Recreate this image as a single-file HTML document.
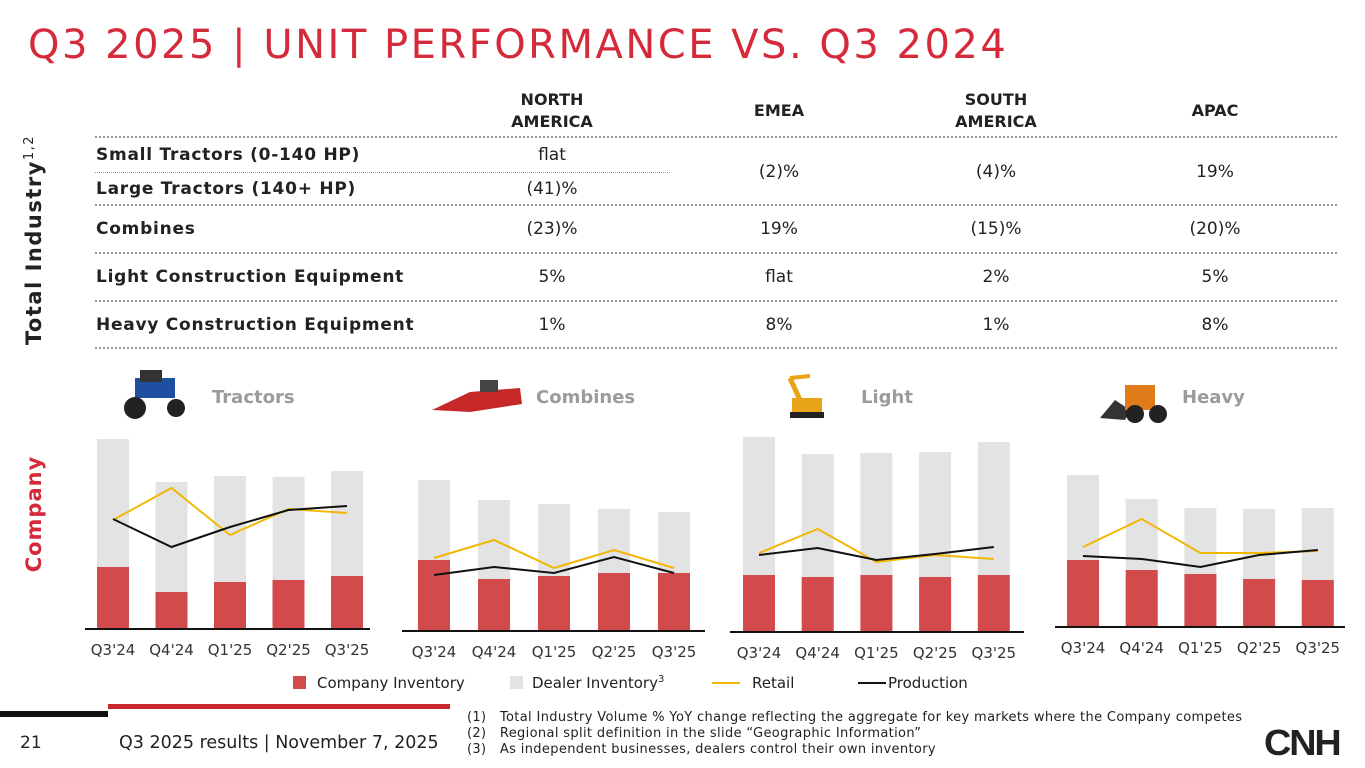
<!DOCTYPE html>
<html><head><meta charset="utf-8">
<style>
body{margin:0;width:1365px;height:768px;background:#fff;overflow:hidden;position:relative;font-family:"DejaVu Sans","Liberation Sans",sans-serif;color:#222}
.abs{position:absolute;white-space:nowrap}
.title{left:28px;top:22px;font-family:"DejaVu Sans",sans-serif;font-size:40px;color:#d42a3a;letter-spacing:2.5px}
.hd{font-weight:bold;font-size:16px;text-align:center;width:200px;line-height:22px}
.rl{font-weight:bold;font-size:17px;left:96px;letter-spacing:0.75px}
.v{font-size:17px;text-align:center;width:160px}
.dot{position:absolute;border-top:2px dotted #999;height:0}
.cat{font-weight:bold;font-size:18px;color:#9b9b9b}
.fn{font-size:13px;left:467px;color:#222;font-family:"DejaVu Sans",sans-serif;letter-spacing:0.35px}
</style></head><body>
<div class="abs title">Q3 2025 | UNIT PERFORMANCE VS. Q3 2024</div>

<div class="abs" style="left:-76px;top:228px;width:220px;text-align:center;transform:rotate(-90deg);font-weight:bold;font-size:21px;letter-spacing:1.5px">Total Industry<sup style="font-weight:normal;font-size:13px">1,2</sup></div>
<div class="abs" style="left:-26px;top:502px;width:120px;text-align:center;transform:rotate(-90deg);font-weight:bold;font-size:21px;color:#d42a3a;letter-spacing:1px">Company</div>

<div class="abs hd" style="left:452px;top:89px">NORTH<br>AMERICA</div>
<div class="abs hd" style="left:679px;top:100px">EMEA</div>
<div class="abs hd" style="left:896px;top:89px">SOUTH<br>AMERICA</div>
<div class="abs hd" style="left:1115px;top:100px">APAC</div>

<div class="dot" style="left:95px;width:1242px;top:136px"></div>
<div class="dot" style="left:95px;width:575px;top:172px;border-top-width:1px"></div>
<div class="dot" style="left:95px;width:1242px;top:204px"></div>
<div class="dot" style="left:95px;width:1242px;top:252px"></div>
<div class="dot" style="left:95px;width:1242px;top:300px"></div>
<div class="dot" style="left:95px;width:1242px;top:347px"></div>

<div class="abs rl" style="top:145px">Small Tractors (0-140 HP)</div>
<div class="abs rl" style="top:179px">Large Tractors (140+ HP)</div>
<div class="abs rl" style="top:219px">Combines</div>
<div class="abs rl" style="top:267px">Light Construction Equipment</div>
<div class="abs rl" style="top:315px">Heavy Construction Equipment</div>

<div class="abs v" style="left:472px;top:145px">flat</div>
<div class="abs v" style="left:472px;top:179px">(41)%</div>
<div class="abs v" style="left:699px;top:162px">(2)%</div>
<div class="abs v" style="left:916px;top:162px">(4)%</div>
<div class="abs v" style="left:1135px;top:162px">19%</div>

<div class="abs v" style="left:472px;top:219px">(23)%</div>
<div class="abs v" style="left:699px;top:219px">19%</div>
<div class="abs v" style="left:916px;top:219px">(15)%</div>
<div class="abs v" style="left:1135px;top:219px">(20)%</div>
<div class="abs v" style="left:472px;top:267px">5%</div>
<div class="abs v" style="left:699px;top:267px">flat</div>
<div class="abs v" style="left:916px;top:267px">2%</div>
<div class="abs v" style="left:1135px;top:267px">5%</div>
<div class="abs v" style="left:472px;top:315px">1%</div>
<div class="abs v" style="left:699px;top:315px">8%</div>
<div class="abs v" style="left:916px;top:315px">1%</div>
<div class="abs v" style="left:1135px;top:315px">8%</div>

<div class="abs cat" style="left:212px;top:387px">Tractors</div>
<div class="abs cat" style="left:536px;top:387px">Combines</div>
<div class="abs cat" style="left:861px;top:387px">Light</div>
<div class="abs cat" style="left:1182px;top:387px">Heavy</div>

<svg class="abs" style="left:0;top:0" width="1365" height="768" id="chart">
 <g>
  <rect x="135" y="378" width="40" height="20" fill="#1f4fa0"/><rect x="140" y="370" width="22" height="12" fill="#333"/>
  <circle cx="135" cy="408" r="11" fill="#222"/><circle cx="176" cy="408" r="9" fill="#222"/></g>
 <g>
  <polygon points="432,410 470,392 520,388 522,404 470,412" fill="#c62828"/><rect x="480" y="380" width="18" height="12" fill="#444"/></g>
 <g>
  <rect x="792" y="398" width="30" height="16" fill="#e8a317"/><line x1="800" y1="400" x2="790" y2="378" stroke="#e8a317" stroke-width="5"/><line x1="790" y1="378" x2="810" y2="376" stroke="#e8a317" stroke-width="4"/><rect x="790" y="412" width="34" height="6" fill="#222"/></g>
 <g>
  <polygon points="1100,418 1115,400 1130,410 1125,420" fill="#333"/><rect x="1125" y="385" width="30" height="25" fill="#e07b1a"/><circle cx="1135" cy="414" r="9" fill="#222"/><circle cx="1158" cy="414" r="9" fill="#222"/></g>
</svg>

<div class="abs" style="left:293px;top:676px;width:13px;height:13px;background:#d24a4c"></div>
<div class="abs" style="left:317px;top:674px;font-size:15px">Company Inventory</div>
<div class="abs" style="left:510px;top:676px;width:13px;height:13px;background:#e3e3e3"></div>
<div class="abs" style="left:532px;top:674px;font-size:15px">Dealer Inventory<sup style="font-size:10px">3</sup></div>
<div class="abs" style="left:712px;top:682px;width:28px;height:2px;background:#f2b705"></div>
<div class="abs" style="left:752px;top:674px;font-size:15px">Retail</div>
<div class="abs" style="left:858px;top:682px;width:28px;height:2px;background:#111"></div>
<div class="abs" style="left:888px;top:674px;font-size:15px">Production</div>

<div class="abs" style="left:0;top:711px;width:108px;height:6px;background:#111"></div>
<div class="abs" style="left:108px;top:704px;width:342px;height:5px;background:#c8282c"></div>
<div class="abs" style="left:20px;top:733px;font-size:17px">21</div>
<div class="abs" style="left:119px;top:733px;font-size:17.5px">Q3 2025 results | November 7, 2025</div>
<div class="abs fn" style="top:710px">(1)&nbsp;&nbsp; Total Industry Volume % YoY change reflecting the aggregate for key markets where the Company competes</div>
<div class="abs fn" style="top:726px">(2)&nbsp;&nbsp; Regional split definition in the slide “Geographic Information”</div>
<div class="abs fn" style="top:742px">(3)&nbsp;&nbsp; As independent businesses, dealers control their own inventory</div>
<div class="abs" style="left:1264px;top:722px;font-size:36px;font-weight:bold;font-family:'Liberation Sans',sans-serif;letter-spacing:-2px;transform:scaleX(1.05);transform-origin:left">CNH</div>

<script>
const quarters=["Q3'24","Q4'24","Q1'25","Q2'25","Q3'25"];
const tractorsTotal=[190,147,153,152,158];
const tractorsCompany=[62,37,47,49,53];
const tractorsRetail=[109,141,94,120,116];
const tractorsProduction=[110,82,102,119,123];
const combinesTotal=[151,131,127,122,119];
const combinesCompany=[71,52,55,58,58];
const combinesRetail=[73,91,63,81,63];
const combinesProduction=[56,64,58,74,58];
const lightTotal=[195,178,179,180,190];
const lightCompany=[57,55,57,55,57];
const lightRetail=[79,103,70,77,73];
const lightProduction=[77,84,72,78,85];
const heavyTotal=[152,128,119,118,119];
const heavyCompany=[67,57,53,48,47];
const heavyRetail=[80,108,74,74,76];
const heavyProduction=[71,68,60,72,77];

const svg=document.getElementById('chart');
const NS='http://www.w3.org/2000/svg';
function mk(t,a){const e=document.createElementNS(NS,t);for(const k in a)e.setAttribute(k,a[k]);svg.appendChild(e);return e;}
const panels=[
 {n:'tractors',x0:113,step:58.5,base:629,ax0:85,ax1:370,tot:tractorsTotal,co:tractorsCompany,re:tractorsRetail,pr:tractorsProduction},
 {n:'combines',x0:434,step:60,base:631,ax0:402,ax1:705,tot:combinesTotal,co:combinesCompany,re:combinesRetail,pr:combinesProduction},
 {n:'light',x0:759,step:58.7,base:632,ax0:730,ax1:1024,tot:lightTotal,co:lightCompany,re:lightRetail,pr:lightProduction},
 {n:'heavy',x0:1083,step:58.7,base:627,ax0:1055,ax1:1345,tot:heavyTotal,co:heavyCompany,re:heavyRetail,pr:heavyProduction}
];
panels.forEach(p=>{
 const xs=i=>p.x0+i*p.step, ys=v=>p.base-v, bw=32;
 quarters.forEach((q,i)=>{
  let r=mk('rect',{x:xs(i)-bw/2,y:ys(p.tot[i]),width:bw,height:p.tot[i],fill:'#e3e3e3'});
  
  
  r=mk('rect',{x:xs(i)-bw/2,y:ys(p.co[i]),width:bw,height:p.co[i],fill:'#d24a4c'});
  
  
  const t=mk('text',{x:xs(i),y:p.base+26,'text-anchor':'middle','font-size':'15','font-family':'DejaVu Sans, sans-serif',fill:'#333'});
  t.textContent=q;
  
  
 });
 const ax=mk('line',{x1:p.ax0,x2:p.ax1,y1:p.base,y2:p.base,stroke:'#111','stroke-width':2});
 
 
 const l1=mk('polyline',{points:p.re.map((v,i)=>xs(i)+','+ys(v)).join(' '),fill:'none',stroke:'#f2b705','stroke-width':2});
 
 
 const l2=mk('polyline',{points:p.pr.map((v,i)=>xs(i)+','+ys(v)).join(' '),fill:'none',stroke:'#111','stroke-width':2});
 
 
});
</script>
</body></html>
